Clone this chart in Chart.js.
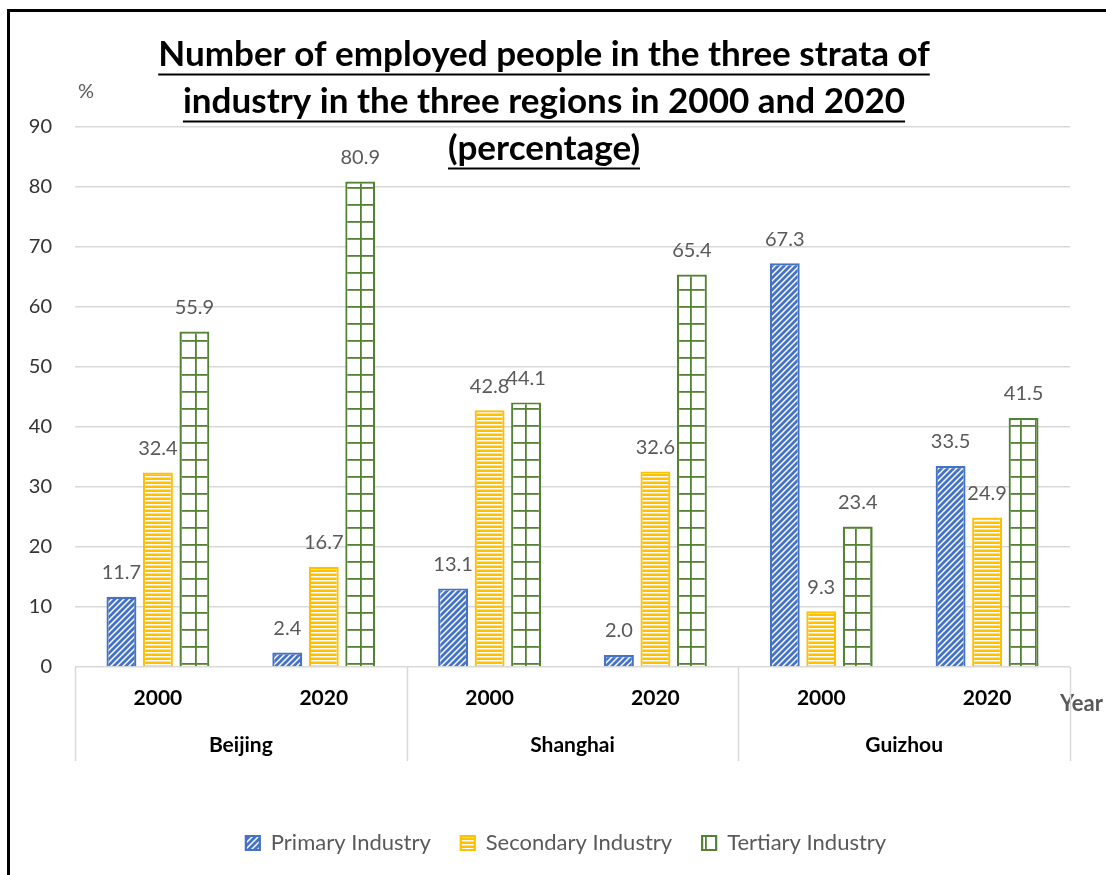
<!DOCTYPE html>
<html>
<head>
<meta charset="utf-8">
<script src="https://cdn.jsdelivr.net/npm/chart.js@4/dist/chart.umd.min.js"></script>
<style>
  html, body { margin: 0; padding: 0; background: #fff; }
  #wrap { width: 1106px; height: 875px; position: relative; }
</style>
</head>
<body>
<div id="wrap"><canvas id="c" width="1106" height="875"></canvas></div>
<script>
// ---- data ----
const regions = ["Beijing", "Shanghai", "Guizhou"];
const years = ["2000", "2020"];
const primaryIndustry = [11.7, 2.4, 13.1, 2.0, 67.3, 33.5];
const secondaryIndustry = [32.4, 16.7, 42.8, 32.6, 9.3, 24.9];
const tertiaryIndustry = [55.9, 80.9, 44.1, 65.4, 23.4, 41.5];
const seriesNames = ["Primary Industry", "Secondary Industry", "Tertiary Industry"];
const titleLines = [
  "Number of employed people in the three strata of",
  "industry in the three regions in 2000 and 2020",
  "(percentage)"
];
const yUnit = "%";
const xUnit = "Year";

// category labels (year under each region)
const labels = [];
regions.forEach(() => years.forEach(y => labels.push(y)));

// ---- patterns ----
function makePattern(w, h, draw) {
  const cv = document.createElement('canvas');
  cv.width = w; cv.height = h;
  const g = cv.getContext('2d');
  draw(g, w, h);
  return g.createPattern(cv, 'repeat');
}
const BLUE = '#4472C4', GOLD = '#FFC000', GREEN = '#548235';
const diagPattern = makePattern(6, 6, (g, w, h) => {
  g.fillStyle = '#fff'; g.fillRect(0, 0, w, h);
  g.strokeStyle = BLUE; g.lineWidth = 2.8;
  g.beginPath();
  g.moveTo(-1, h + 1); g.lineTo(w + 1, -1);
  g.moveTo(-4, 4); g.lineTo(4, -4);
  g.moveTo(2, 10); g.lineTo(10, 2);
  g.stroke();
});
const horizPattern = makePattern(4, 4, (g, w, h) => {
  g.fillStyle = GOLD; g.fillRect(0, 0, w, h);
  g.fillStyle = '#fff'; g.fillRect(0, 0, w, 1.5);
});
const gridPattern = makePattern(15, 17, (g, w, h) => {
  g.fillStyle = '#fff'; g.fillRect(0, 0, w, h);
  g.fillStyle = GREEN;
  g.fillRect(0, 0, 1.8, h);
  g.fillRect(0, 0, w, 1.8);
});

// ---- plugins ----
const FONT = "Lato, 'Open Sans', sans-serif";

const decorPlugin = {
  id: 'decor',
  afterLayout(chart) {
    // legend sits slightly right of centre in the reference
    if (chart.legend) {
      chart.legend.left += 31;
      chart.legend.right += 31;
    }
  },
  beforeDraw(chart) {
    const ctx = chart.ctx;
    ctx.save();
    ctx.fillStyle = '#fff';
    ctx.fillRect(0, 0, chart.width, chart.height);
    ctx.restore();
  },
  afterDraw(chart) {
    const ctx = chart.ctx;
    const area = chart.chartArea;
    const xs = chart.scales.x;
    ctx.save();
    // outer frame (left + top)
    ctx.strokeStyle = '#000';
    ctx.lineWidth = 3;
    ctx.beginPath();
    ctx.moveTo(8.5, chart.height + 5);
    ctx.lineTo(8.5, 10.5);
    ctx.lineTo(chart.width + 5, 10.5);
    ctx.stroke();

    // title
    ctx.fillStyle = '#000';
    ctx.strokeStyle = '#000';
    ctx.textAlign = 'center';
    ctx.textBaseline = 'alphabetic';
    let size = 40;
    ctx.font = `bold ${size}px ${FONT}`;
    const target = 772;
    size = size * target / ctx.measureText(titleLines[0]).width;
    ctx.font = `bold ${size}px ${FONT}`;
    const cx = 544;
    const baselines = [66, 113, 160];
    titleLines.forEach((t, i) => {
      ctx.fillText(t, cx, baselines[i]);
      const w = ctx.measureText(t).width;
      ctx.lineWidth = 2;
      ctx.beginPath();
      ctx.moveTo(cx - w / 2, baselines[i] + 8.5);
      ctx.lineTo(cx + w / 2, baselines[i] + 8.5);
      ctx.stroke();
    });

    // unit labels
    ctx.fillStyle = '#595959';
    ctx.font = `20px ${FONT}`;
    ctx.textAlign = 'left';
    ctx.textBaseline = 'middle';
    ctx.fillText(yUnit, 78, 92);
    ctx.font = `bold 22px ${FONT}`;
    ctx.fillText(xUnit, 1060, 704);

    // multi-level category axis: separators + region labels
    const n = labels.length;
    const catW = (area.right - area.left) / n;
    ctx.strokeStyle = '#d9d9d9';
    ctx.lineWidth = 1.5;
    for (let r = 0; r <= regions.length; r++) {
      const x = Math.round(area.left + r * years.length * catW) + 0.5;
      ctx.beginPath();
      ctx.moveTo(x, area.bottom);
      ctx.lineTo(x, area.bottom + 94);
      ctx.stroke();
    }
    ctx.fillStyle = '#000';
    ctx.font = `bold 21px ${FONT}`;
    ctx.textAlign = 'center';
    regions.forEach((reg, r) => {
      const x0 = xs.getPixelForValue(r * years.length);
      const x1 = xs.getPixelForValue(r * years.length + years.length - 1);
      ctx.fillText(reg, (x0 + x1) / 2, area.bottom + 78);
    });
    ctx.restore();
  },
  afterDatasetsDraw(chart) {
    const ctx = chart.ctx;
    ctx.save();
    ctx.fillStyle = '#595959';
    ctx.font = `20px ${FONT}`;
    ctx.textAlign = 'center';
    ctx.textBaseline = 'middle';
    chart.data.datasets.forEach((ds, di) => {
      const meta = chart.getDatasetMeta(di);
      meta.data.forEach((el, i) => {
        ctx.fillText(ds.data[i].toFixed(1), el.x, el.y - 24);
      });
    });
    ctx.restore();
  }
};

const chart = new Chart(document.getElementById('c'), {
  type: 'bar',
  data: {
    labels: labels,
    datasets: [
      { label: seriesNames[0], data: primaryIndustry, backgroundColor: diagPattern, borderColor: BLUE, borderWidth: 2.2 },
      { label: seriesNames[1], data: secondaryIndustry, backgroundColor: horizPattern, borderColor: GOLD, borderWidth: 2.2 },
      { label: seriesNames[2], data: tertiaryIndustry, backgroundColor: gridPattern, borderColor: GREEN, borderWidth: 2.2 }
    ]
  },
  options: {
    responsive: false,
    animation: false,
    devicePixelRatio: 1,
    categoryPercentage: 0.66,
    barPercentage: 0.82,
    layout: { padding: { top: 127, left: 0, right: 36, bottom: 11 } },
    plugins: {
      title: { display: false },
      tooltip: { enabled: false },
      legend: {
        position: 'bottom',
        labels: {
          font: { family: FONT, size: 22 },
          color: '#595959',
          boxWidth: 14,
          boxHeight: 14,
          padding: 30
        }
      }
    },
    scales: {
      y: {
        min: 0, max: 90,
        ticks: { stepSize: 10, color: '#333', font: { family: FONT, size: 20 }, padding: 23 },
        grid: { color: '#d9d9d9', lineWidth: 1.5, drawTicks: false },
        border: { display: false },
        afterFit(s) { s.width = 75; }
      },
      x: {
        ticks: { color: '#000', font: { family: FONT, size: 21, weight: 'bold' }, padding: 19, maxRotation: 0 },
        grid: { display: false, drawTicks: false },
        border: { display: false },
        afterFit(s) { s.height = 135; }
      }
    }
  },
  plugins: [decorPlugin]
});
</script>
</body>
</html>
